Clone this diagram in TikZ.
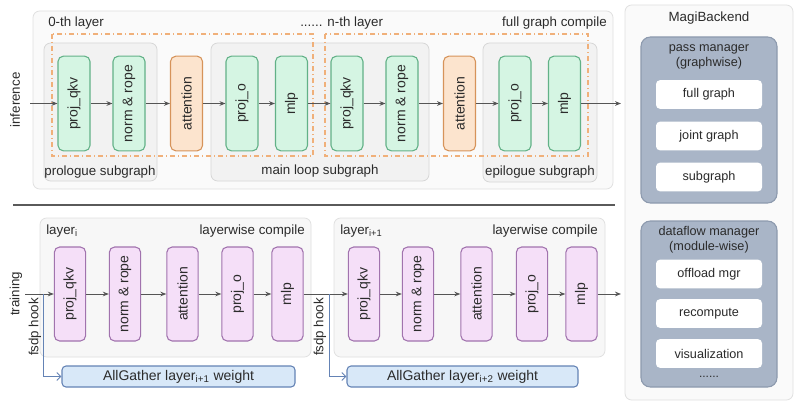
\documentclass[tikz,border=0pt]{standalone}
\usepackage{fontspec}
\setmainfont{Liberation Sans}
\usepackage{xcolor}
\usetikzlibrary{arrows.meta}
\definecolor{ink}{HTML}{2B2B2B}
\definecolor{boxfill}{HTML}{FAFAFA}
\definecolor{boxline}{HTML}{E0E0E0}
\definecolor{subfill}{HTML}{F2F2F2}
\definecolor{subline}{HTML}{D6D6D6}
\definecolor{greenfill}{HTML}{D5F5E3}
\definecolor{greendraw}{HTML}{62B187}
\definecolor{orangefill}{HTML}{FCE4CE}
\definecolor{orangedraw}{HTML}{D6935A}
\definecolor{orangedash}{HTML}{F0B07A}
\definecolor{purplefill}{HTML}{F5DFF8}
\definecolor{purpledraw}{HTML}{A173AE}
\definecolor{bluefill}{HTML}{D8E8F8}
\definecolor{bluedraw}{HTML}{6483B5}
\definecolor{mgrfill}{HTML}{A9B5C7}
\definecolor{mgrline}{HTML}{8D9AAE}
\definecolor{arrowgray}{HTML}{555555}
\definecolor{sepline}{HTML}{5A5A5A}

\begin{document}
\begin{tikzpicture}[x=0.75pt,y=-0.75pt,font=\fontsize{10}{12}\selectfont,text=ink,
  opbox/.style={draw,rounded corners=4pt,line width=0.8pt,rotate=90,minimum width=71pt,minimum height=24pt,inner sep=1pt,font=\fontsize{10.5}{12}\selectfont},
  greenop/.style={opbox,draw=greendraw,fill=greenfill},
  attnop/.style={opbox,draw=orangedraw,fill=orangefill},
  trainop/.style={opbox,draw=purpledraw,fill=purplefill,minimum width=70.5pt,minimum height=23.5pt},
  gatherbox/.style={draw=bluedraw,fill=bluefill,rounded corners=3pt,line width=0.8pt,minimum height=15.75pt,inner sep=0pt,font=\fontsize{10.5}{12}\selectfont},
  itembox/.style={fill=white,rounded corners=3pt,minimum width=79.5pt,minimum height=21.5pt,inner sep=0pt,font=\fontsize{9.5}{11}\selectfont},
  tag/.style={inner sep=0pt},
  flowarrow/.style={draw=arrowgray,line width=0.7pt,-{Stealth[length=4.5pt,width=3.5pt]}},
  hookarrow/.style={draw=bluedraw,line width=0.7pt,-{Straight Barb[length=3pt,width=6pt]}},
  outerbox/.style={draw=boxline,fill=boxfill,rounded corners=5pt,line width=0.6pt},
  subbox/.style={draw=subline,fill=subfill,rounded corners=5pt,line width=0.6pt},
  layerbox/.style={draw=orangedash,line width=0.8pt,dash pattern=on 4pt off 2pt on 1pt off 2pt},
  mgrbox/.style={draw=mgrline,fill=mgrfill,rounded corners=7pt,line width=0.8pt}]
\useasboundingbox (0,0) rectangle (800,410);
\fill[white] (0,0) rectangle (800,410);

\draw[outerbox] (33,11) rectangle (613,189);
\draw[subbox] (44,43) rectangle (157,181);
\draw[subbox] (211,43) rectangle (429,181);
\draw[subbox] (483,43) rectangle (597,182);
\draw[layerbox] (52,34) rectangle (313,156);
\draw[layerbox] (325,34) rectangle (588,156);
\node[tag,anchor=west] (l0) at (48,23) {0-th layer};
\node[tag,anchor=west] (ln) at (300,23) {...... n-th layer};
\node[tag,anchor=east] (lfull) at (607,23) {full graph compile};
\node[tag] (lpro) at (100,172) {prologue subgraph};
\node[tag] (lmain) at (320,171) {main loop subgraph};
\node[tag] (lepi) at (540,172) {epilogue subgraph};
\node[tag,rotate=90] (linf) at (15,100) {inference};

\node[greenop] (qkvA) at (74,103.5) {proj\_qkv};
\node[greenop] (normA) at (129,103.5) {norm \& rope};
\node[attnop] (attA) at (186.5,103.5) {attention};
\node[greenop] (projA) at (242,103.5) {proj\_o};
\node[greenop] (mlpA) at (291.5,103.5) {mlp};
\node[greenop] (qkvB) at (347,103.5) {proj\_qkv};
\node[greenop] (normB) at (402,103.5) {norm \& rope};
\node[attnop] (attB) at (459.5,103.5) {attention};
\node[greenop] (projB) at (515,103.5) {proj\_o};
\node[greenop] (mlpB) at (564.5,103.5) {mlp};
\coordinate (infin) at (30,103.5);
\coordinate (infout) at (621,103.5);
\draw[flowarrow] (infin) -- (qkvA);
\draw[flowarrow] (qkvA) -- (normA);
\draw[flowarrow] (normA) -- (attA);
\draw[flowarrow] (attA) -- (projA);
\draw[flowarrow] (projA) -- (mlpA);
\draw[flowarrow] (mlpA) -- (qkvB);
\draw[flowarrow] (qkvB) -- (normB);
\draw[flowarrow] (normB) -- (attB);
\draw[flowarrow] (attB) -- (projB);
\draw[flowarrow] (projB) -- (mlpB);
\draw[flowarrow] (mlpB) -- (infout);

\draw[sepline,line width=1.3pt] (13,205) -- (615,205);

\draw[outerbox,fill=subfill!60] (40,218) rectangle (311,357);
\draw[outerbox,fill=subfill!60] (334,218) rectangle (605,357);
\node[tag,anchor=west] (li) at (46,231) {layer\textsubscript{i}};
\node[tag,anchor=east] (lwA) at (305,231) {layerwise compile};
\node[tag,anchor=west] (lii) at (340,231) {layer\textsubscript{i+1}};
\node[tag,anchor=east] (lwB) at (598,231) {layerwise compile};
\node[tag,rotate=90] (ltrain) at (16,294) {training};
\node[tag,rotate=90] (lhookA) at (35,327) {fsdp hook};
\node[tag,rotate=90] (lhookB) at (320,327) {fsdp hook};

\node[trainop] (tqkvA) at (70,294) {proj\_qkv};
\node[trainop] (tnormA) at (125,294) {norm \& rope};
\node[trainop] (tattA) at (182.5,294) {attention};
\node[trainop] (tprojA) at (237.5,294) {proj\_o};
\node[trainop] (tmlpA) at (287.5,294) {mlp};
\node[trainop] (tqkvB) at (364,294) {proj\_qkv};
\node[trainop] (tnormB) at (418,294) {norm \& rope};
\node[trainop] (tattB) at (476.5,294) {attention};
\node[trainop] (tprojB) at (532,294) {proj\_o};
\node[trainop] (tmlpB) at (581.5,294) {mlp};
\node[gatherbox,minimum width=174.75pt] (agA) at (178.5,376.5) {AllGather layer\textsubscript{i+1} weight};
\node[gatherbox,minimum width=173.25pt] (agB) at (462.5,376.5) {AllGather layer\textsubscript{i+2} weight};
\coordinate (trin) at (25,294);
\coordinate (trout) at (621,294);
\coordinate (hookA) at (43,294);
\coordinate (hookB) at (329,294);
\draw[flowarrow] (trin) -- (tqkvA);
\draw[flowarrow] (tqkvA) -- (tnormA);
\draw[flowarrow] (tnormA) -- (tattA);
\draw[flowarrow] (tattA) -- (tprojA);
\draw[flowarrow] (tprojA) -- (tmlpA);
\draw[flowarrow] (tmlpA) -- (tqkvB);
\draw[flowarrow] (tqkvB) -- (tnormB);
\draw[flowarrow] (tnormB) -- (tattB);
\draw[flowarrow] (tattB) -- (tprojB);
\draw[flowarrow] (tprojB) -- (tmlpB);
\draw[flowarrow] (tmlpB) -- (trout);
\draw[hookarrow] (hookA) |- (agA);
\draw[hookarrow] (hookB) |- (agB);

\draw[outerbox] (625,5) rectangle (793,400);
\node[tag] (lbackend) at (709,18) {MagiBackend};
\draw[mgrbox] (641,37) rectangle (777,203);
\node[tag,align=center,font=\fontsize{9.5}{11.25}\selectfont] (lpass) at (709,56.5) {pass manager\\(graphwise)};
\node[itembox] (full) at (709,94.5) {full graph};
\node[itembox] (joint) at (709,136) {joint graph};
\node[itembox] (sub) at (709,177) {subgraph};
\draw[mgrbox] (641,221) rectangle (777,387);
\node[tag,align=center,font=\fontsize{9.5}{11.25}\selectfont] (ldata) at (709,240) {dataflow manager\\(module-wise)};
\node[itembox] (offload) at (709,274) {offload mgr};
\node[itembox] (recomp) at (709,313.5) {recompute};
\node[itembox] (visual) at (709,353.5) {visualization};
\node[tag,font=\fontsize{9}{10}\selectfont] (more) at (709,377) {......};
\end{tikzpicture}
\end{document}
